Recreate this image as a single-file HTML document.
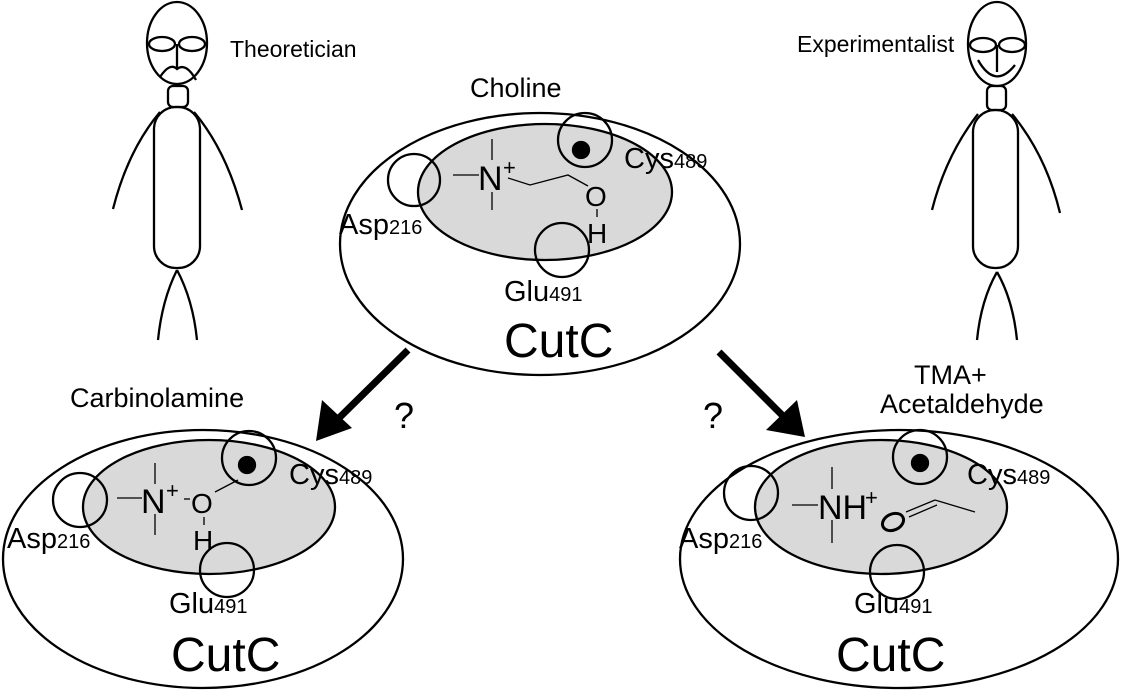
<!DOCTYPE html>
<html><head><meta charset="utf-8"><style>
html,body{margin:0;padding:0;background:#fff;}
svg{display:block;}
text{font-family:"Liberation Sans",sans-serif;fill:#000;}
</style></head><body>
<svg width="1123" height="694" viewBox="0 0 1123 694" xmlns="http://www.w3.org/2000/svg">
<g fill="none" stroke="#000" stroke-width="2.3">
<!-- Theoretician -->
<ellipse cx="177" cy="43" rx="30" ry="41"/>
<ellipse cx="162" cy="44" rx="13" ry="7"/>
<ellipse cx="192" cy="44" rx="13" ry="7"/>
<line x1="177" y1="44" x2="177" y2="69"/>
<path d="M160,77 Q170,62 177,69 Q186,62 196,80"/>
<rect x="168" y="86" width="20" height="21" rx="5"/>
<rect x="154" y="107" width="46" height="161" rx="22"/>
<path d="M160,112 Q128,150 113,209"/>
<path d="M194,112 Q226,150 242,210"/>
<path d="M177,270 Q162,300 158,340"/>
<path d="M177,270 Q193,300 197,340"/>
<!-- Experimentalist -->
<ellipse cx="997" cy="44" rx="29" ry="42"/>
<ellipse cx="983" cy="45" rx="13" ry="7"/>
<ellipse cx="1012" cy="45" rx="13" ry="7"/>
<line x1="997" y1="45" x2="997" y2="72"/>
<path d="M978,60 Q995,90 1015,65"/>
<rect x="987" y="86" width="19" height="24" rx="5"/>
<rect x="973" y="110" width="45" height="158" rx="22"/>
<path d="M978,114 Q946,155 932,210"/>
<path d="M1012,114 Q1046,155 1060,213"/>
<path d="M997,272 Q981,300 977,340"/>
<path d="M997,272 Q1013,300 1017,340"/>
</g>

<!-- Top CutC -->
<g stroke="#000" stroke-width="2.3">
<ellipse cx="540" cy="244" rx="200" ry="131" fill="#fff"/>
<ellipse cx="545" cy="192" rx="127" ry="68" fill="#d9d9d9"/>
<circle cx="414" cy="180" r="26" fill="none"/>
<circle cx="585" cy="140" r="27" fill="none"/>
<circle cx="562" cy="250" r="27" fill="none"/>
<circle cx="581" cy="150" r="8" fill="#000"/>
</g>
<g stroke="#000" stroke-width="1.3" fill="none">
<line x1="453" y1="175" x2="479" y2="175"/>
<line x1="492" y1="139" x2="492" y2="160"/>
<line x1="492" y1="192" x2="492" y2="210"/>
<polyline points="508,178 530,185 568,175 588,186"/>
<line x1="597" y1="209" x2="597" y2="217"/>
</g>
<text x="478" y="190" font-size="34">N</text><text x="503" y="175" font-size="22">+</text>
<text x="585" y="206" font-size="28">O</text>
<text x="587" y="243" font-size="28">H</text>
<text x="624" y="168" font-size="29">Cys<tspan font-size="20">489</tspan></text>
<text x="339" y="234" font-size="29">Asp<tspan font-size="20">216</tspan></text>
<text x="504" y="301" font-size="29">Glu<tspan font-size="20">491</tspan></text>
<text x="504" y="357" font-size="48">CutC</text>
<text x="470" y="97" font-size="27">Choline</text>
<text x="230" y="57" font-size="23">Theoretician</text>
<text x="797" y="52" font-size="23">Experimentalist</text>
<text x="70" y="407" font-size="27">Carbinolamine</text>
<text x="914" y="384" font-size="27">TMA+</text>
<text x="880" y="413" font-size="27">Acetaldehyde</text>

<!-- arrows -->
<g stroke="#000" stroke-width="7">
<line x1="408" y1="350" x2="337" y2="420"/>
<line x1="719" y1="352" x2="783" y2="416"/>
</g>
<polygon points="316,441 322,400 352,428" fill="#000"/>
<polygon points="805,437 766,430 797,400" fill="#000"/>
<text x="394" y="428" font-size="36">?</text>
<text x="703" y="428" font-size="36">?</text>

<!-- Bottom-left -->
<g stroke="#000" stroke-width="2.3">
<ellipse cx="203" cy="559" rx="200" ry="129" fill="#fff"/>
<ellipse cx="209" cy="507" rx="126" ry="67" fill="#d9d9d9"/>
<circle cx="80" cy="500" r="27" fill="none"/>
<circle cx="249" cy="458" r="27" fill="none"/>
<circle cx="227" cy="570" r="27" fill="none"/>
<circle cx="247" cy="465" r="8" fill="#000"/>
</g>
<g stroke="#000" stroke-width="1.3">
<line x1="117" y1="498" x2="142" y2="498"/>
<line x1="155" y1="463" x2="155" y2="484"/>
<line x1="155" y1="514" x2="155" y2="535"/>
<line x1="184" y1="499" x2="190" y2="499"/>
<line x1="215" y1="492" x2="238" y2="480"/>
<line x1="204" y1="517" x2="204" y2="525"/>
</g>
<text x="141" y="513" font-size="34">N</text><text x="166" y="498" font-size="22">+</text>
<text x="191" y="513" font-size="28">O</text>
<text x="193" y="550" font-size="28">H</text>
<text x="289" y="484" font-size="29">Cys<tspan font-size="20">489</tspan></text>
<text x="7" y="548" font-size="29">Asp<tspan font-size="20">216</tspan></text>
<text x="169" y="613" font-size="29">Glu<tspan font-size="20">491</tspan></text>
<text x="171" y="671" font-size="48">CutC</text>

<!-- Bottom-right -->
<g stroke="#000" stroke-width="2.3">
<ellipse cx="899" cy="559" rx="219" ry="129" fill="#fff"/>
<ellipse cx="881" cy="507" rx="126" ry="67" fill="#d9d9d9"/>
<circle cx="751" cy="493" r="27" fill="none"/>
<circle cx="920" cy="457" r="27" fill="none"/>
<circle cx="897" cy="572" r="27" fill="none"/>
<circle cx="920" cy="463" r="8" fill="#000"/>
<ellipse cx="893" cy="522" rx="11" ry="8" transform="rotate(-25 893 522)" fill="none" stroke-width="3"/>
</g>
<g stroke="#000" stroke-width="1.3">
<line x1="792" y1="505" x2="818" y2="505"/>
<line x1="832" y1="467" x2="832" y2="489"/>
<line x1="832" y1="520" x2="832" y2="543"/>
<line x1="906" y1="512" x2="935" y2="500"/>
<line x1="909" y1="517" x2="937" y2="505"/>
<line x1="935" y1="500" x2="975" y2="512"/>
</g>
<text x="818" y="519" font-size="34">NH</text><text x="865" y="505" font-size="22">+</text>
<text x="967" y="484" font-size="29">Cys<tspan font-size="20">489</tspan></text>
<text x="679" y="548" font-size="29">Asp<tspan font-size="20">216</tspan></text>
<text x="854" y="613" font-size="29">Glu<tspan font-size="20">491</tspan></text>
<text x="836" y="671" font-size="48">CutC</text>
</svg>
</body></html>
